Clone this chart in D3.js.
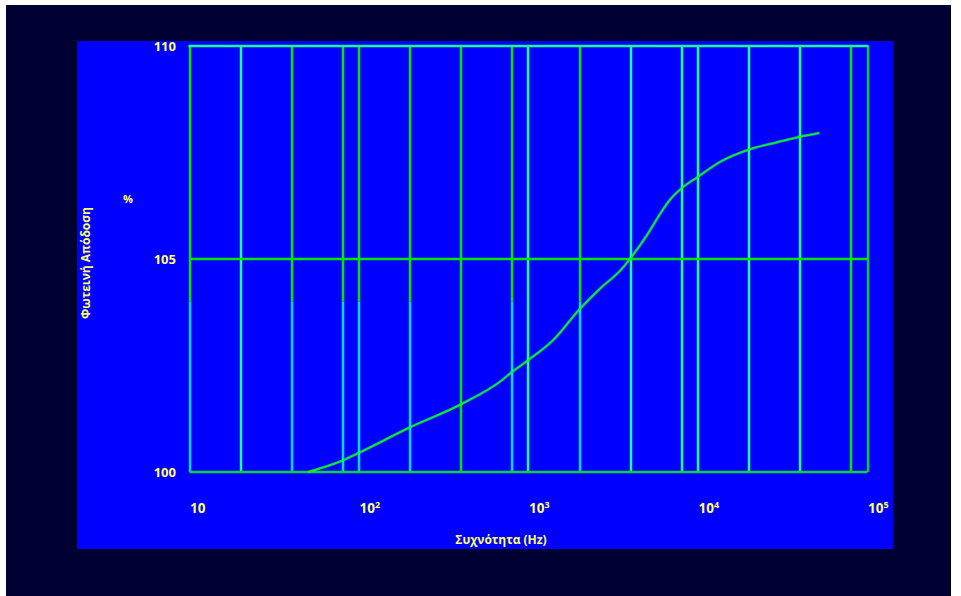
<!DOCTYPE html>
<html>
<head>
<meta charset="utf-8">
<script src="https://cdn.jsdelivr.net/npm/d3@7"></script>
<style>
  html, body { margin: 0; padding: 0; background: #ffffff; }
  svg { display: block; }
  text { font-family: "Open Sans", "Noto Sans", sans-serif; font-weight: 700; fill: #ffff66; }
</style>
</head>
<body>
<svg id="chart" width="961" height="596"></svg>
<script>
// Frequency response of luminous efficiency (Hz vs %)
const frequency = [50, 80, 100, 200, 400, 700, 800, 1000, 1400, 2000, 2650, 3500, 4000,
                   5000, 6000, 6800, 8000, 10000, 13500, 20000, 30000, 40000, 52000];
const efficiency = [100.0, 100.27, 100.45, 101.05, 101.59, 102.16, 102.35, 102.63, 103.1,
                    103.82, 104.31, 104.74, 105.02, 105.56, 106.07, 106.38, 106.66, 106.93,
                    107.28, 107.57, 107.75, 107.87, 107.96];

const yTicks = [100, 105, 110];
const xDecades = [10, 100, 1000, 10000, 100000];
const xDecadeExp = ["", "2", "3", "4", "5"];
const xGrid = [10, 20, 40, 80, 100, 200, 400, 800, 1000, 2000, 4000, 8000,
               10000, 20000, 40000, 80000, 100000];

const yTitle = "Φωτεινή Απόδοση";
const yUnit = "%";
const xTitle = "Συχνότητα (Hz)";

const svg = d3.select("#chart");

// frame: dark surround and blue panel
svg.append("rect").attr("x", 6).attr("y", 5).attr("width", 945).attr("height", 591).attr("fill", "#000033");
svg.append("rect").attr("x", 77).attr("y", 41).attr("width", 816).attr("height", 508).attr("fill", "#0000ff");

const x = d3.scaleLog().domain([10, 100000]).range([189.5, 867.5]);
const y = d3.scaleLinear().domain([100, 110]).range([472, 46]);

const GREEN = "#00e600";
const CYAN = "#00d8ff";
const MINT = "#19ff8c";

// lines whose lower part is drawn in cyan
const cyanLower = new Set([10, 40, 80, 100, 200, 800, 2000]);
const mint = new Set([20, 1000, 4000, 8000, 10000, 20000, 40000]);

const grid = svg.append("g");
xGrid.forEach(f => {
  const gx = Math.round(x(f));
  if (cyanLower.has(f)) {
    grid.append("line").attr("x1", gx).attr("x2", gx).attr("y1", y(110)).attr("y2", y(104))
      .attr("stroke", GREEN).attr("stroke-width", 2.5);
    grid.append("line").attr("x1", gx).attr("x2", gx).attr("y1", y(104)).attr("y2", y(100))
      .attr("stroke", CYAN).attr("stroke-width", 2.5);
  } else {
    const c = f === 100000 ? "#00cc33" : (mint.has(f) ? MINT : GREEN);
    grid.append("line").attr("x1", gx).attr("x2", gx).attr("y1", y(110)).attr("y2", y(100))
      .attr("stroke", c).attr("stroke-width", 2.5);
  }
});

// horizontal grid
grid.append("line").attr("x1", x(10) - 1).attr("x2", x(100000) + 1).attr("y1", y(110)).attr("y2", y(110))
  .attr("stroke", MINT).attr("stroke-width", 2.5);
grid.append("line").attr("x1", x(10)).attr("x2", x(100000)).attr("y1", y(105)).attr("y2", y(105))
  .attr("stroke", GREEN).attr("stroke-width", 2.5);
grid.append("line").attr("x1", x(10)).attr("x2", x(100000)).attr("y1", y(100)).attr("y2", y(100))
  .attr("stroke", "#10d040").attr("stroke-width", 2.5);

// y tick labels
svg.append("g").selectAll("text").data(yTicks).join("text")
  .attr("x", 176).attr("y", d => y(d) + 5)
  .attr("text-anchor", "end").attr("font-size", 13)
  .text(d => d);

// x tick labels (powers of ten)
const xl = svg.append("g").selectAll("text").data(xDecades).join("text")
  .attr("x", d => x(d) + 0.5).attr("y", 513)
  .attr("font-size", 13.5);
xl.append("tspan").text("10");
xl.append("tspan").attr("font-size", 9).attr("dy", -5).text((d, i) => xDecadeExp[i]);

// curve
const line = d3.line().x(d => x(d[0])).y(d => y(d[1])).curve(d3.curveMonotoneX);
const pts = frequency.map((f, i) => [f, efficiency[i]]);
svg.append("path").datum(pts).attr("d", line)
  .attr("fill", "none").attr("stroke", "#40ff90").attr("stroke-width", 2.8).attr("opacity", 0.5);
svg.append("path").datum(pts).attr("d", line)
  .attr("fill", "none").attr("stroke", "#00ff00").attr("stroke-width", 1.5);

// titles
svg.append("text").attr("transform", "translate(90,263) rotate(-90)")
  .attr("text-anchor", "middle").attr("font-size", 12).text(yTitle);
svg.append("text").attr("x", 128).attr("y", 203).attr("text-anchor", "middle")
  .attr("font-size", 11).text(yUnit);
svg.append("text").attr("x", 501).attr("y", 544).attr("text-anchor", "middle")
  .attr("font-size", 12).text(xTitle);
</script>
</body>
</html>
